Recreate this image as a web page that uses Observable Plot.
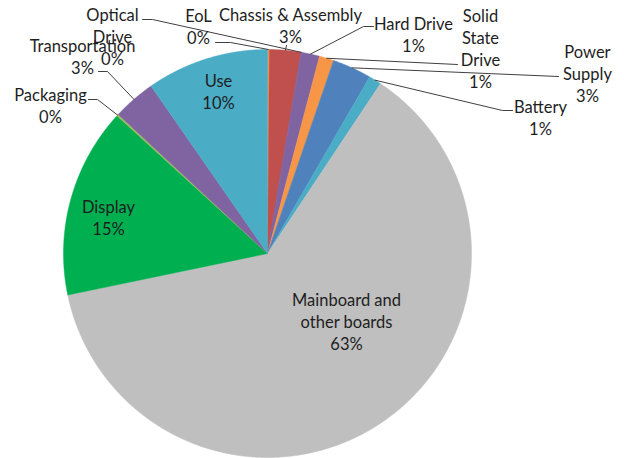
<!DOCTYPE html>
<html><head><meta charset="utf-8">
<script src="https://cdn.jsdelivr.net/npm/d3@7"></script>
<script src="https://cdn.jsdelivr.net/npm/@observablehq/plot@0.6"></script>
<style>body{margin:0;background:#fff}</style>
</head><body><div id="chart"></div>
<script>
// ---- data (clockwise from 12 o'clock) ----
const categories = ["EoL","Chassis & Assembly","Optical Drive","Hard Drive","Solid State Drive","Power Supply","Battery","Mainboard and other boards","Display","Packaging","Transportation","Use"];
const shares = [0.15, 2.5, 0.02, 1.45, 1.15, 3.1, 1.0, 62.6, 15.1, 0.15, 3.4, 9.7];
const pctLabels = ["0%","3%","0%","1%","1%","3%","1%","63%","15%","0%","3%","10%"];
const labelNames = ["EoL","Chassis & Assembly","Optical\nDrive","Hard Drive","Solid\nState\nDrive","Power\nSupply","Battery","Mainboard and\nother boards","Display","Packaging","Transportation","Use"];
const colors = ["#F79646","#C0504D","#8064A2","#8064A2","#F79646","#4F81BD","#4BACC6","#BFBFBF","#00B050","#9BBB59","#8064A2","#4BACC6"];

// ---- layout (pixels) ----
const W = 624, H = 458, CX = 267, CY = 253, R = 204;
const FS = 16.5, LH = 22;
// label block centre and leader start/elbow points
const labelLayout = [
  {c:[198,25], lead:[[215,42],[230,42]]},
  {c:[290,24], lead:[[286,45]]},
  {c:[112,35], lead:[[142,19],[152,19]]},
  {c:[413,33], lead:[[373,26],[363,26]]},
  {c:[480,47], lead:[[457,64]]},
  {c:[587,72], lead:[[558,76]]},
  {c:[540,116], lead:[[512,110],[502,110]]},
  {c:[346,320], lead:null},
  {c:[108,216], lead:null},
  {c:[50,104], lead:[[88,99],[97,99]]},
  {c:[82,55], lead:[[98,71],[107,71]]},
  {c:[218,90], lead:null}
];
const ux = px => (px - CX) / R, uy = py => (CY - py) / R;

const arcs = d3.pie().sort(null).value(d => d)(shares);

const slicePts = [];
arcs.forEach((a, i) => {
  slicePts.push({k: i, x: 0, y: 0, c: colors[i]});
  const n = Math.max(2, Math.ceil((a.endAngle - a.startAngle) / 0.004));
  for (let j = 0; j <= n; j++) {
    const t = a.startAngle + (a.endAngle - a.startAngle) * j / n;
    slicePts.push({k: i, x: Math.sin(t), y: Math.cos(t), c: colors[i]});
  }
  slicePts.push({k: i, x: 0, y: 0, c: colors[i]});
});

const labels = categories.map((d, i) => ({
  text: labelNames[i] + "\n" + pctLabels[i],
  x: ux(labelLayout[i].c[0]), y: uy(labelLayout[i].c[1])
}));

const leaderPts = [];
arcs.forEach((a, i) => {
  const L = labelLayout[i].lead;
  if (!L) return;
  L.forEach(p => leaderPts.push({k: i, x: ux(p[0]), y: uy(p[1])}));
  const m = (a.startAngle + a.endAngle) / 2;
  leaderPts.push({k: i, x: Math.sin(m), y: Math.cos(m)});
});

const chart = Plot.plot({
  width: W, height: H,
  margin: 0,
  x: {axis: null, domain: [ux(0), ux(W)]},
  y: {axis: null, domain: [uy(H), uy(0)]},
  color: {type: "identity"},
  style: {fontFamily: "Lato, 'Open Sans', sans-serif", background: "#fff"},
  marks: [
    Plot.line(slicePts, {x: "x", y: "y", z: "k", fill: "c", stroke: "c", strokeWidth: 0.5, curve: "linear"}),
    Plot.line(leaderPts, {x: "x", y: "y", z: "k", stroke: "#404040", strokeWidth: 1, curve: "linear"}),
    Plot.text(labels, {x: "x", y: "y", text: "text", fontSize: FS, lineHeight: LH / FS, fill: "#1e1e1e"})
  ]
});
document.getElementById("chart").appendChild(chart);
</script>
</body></html>
